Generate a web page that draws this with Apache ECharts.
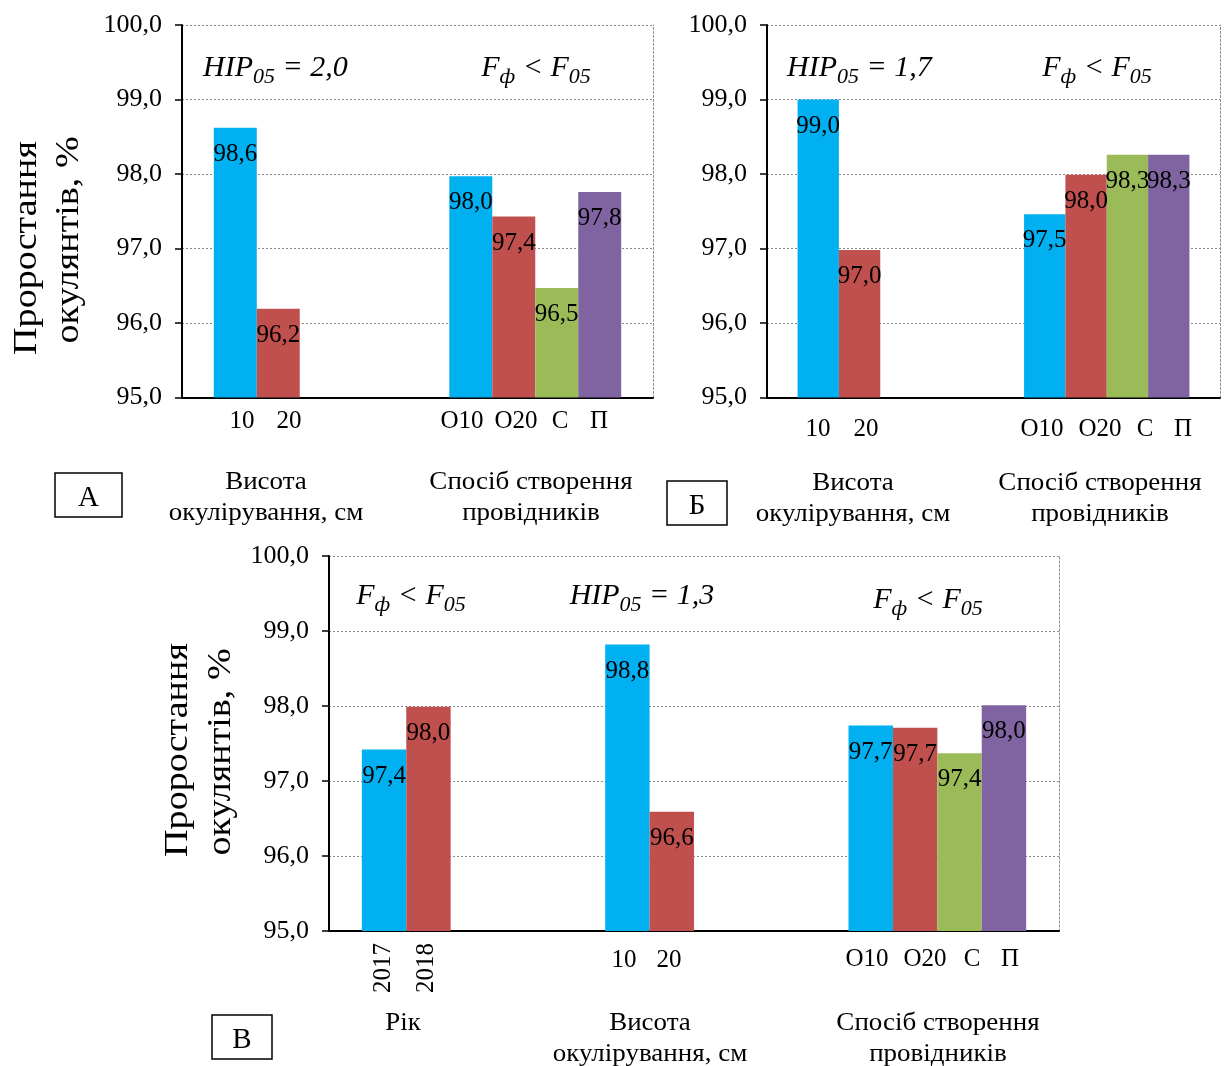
<!DOCTYPE html>
<html><head><meta charset="utf-8">
<script src="https://cdn.jsdelivr.net/npm/echarts@6/dist/echarts.min.js"></script>
<style>html,body{margin:0;padding:0;background:#fff}#c{width:1224px;height:1066px}</style>
</head><body><div id="c"></div>
<script>
// ---------- data ----------
const yMin = 95, yMax = 100, yStep = 1;
const heightCats = ['10', '20'];
const methodCats = ['О10', 'О20', 'С', 'П'];
const yearCats = ['2017', '2018'];
// Chart А
const A_height = [98.62, 96.19];
const A_method = [97.97, 97.43, 96.47, 97.76];
// Chart Б
const B_height = [99.0, 96.98];
const B_method = [97.46, 97.99, 98.26, 98.26];
// Chart В
const C_year = [97.42, 97.99];
const C_height = [98.82, 96.59];
const C_method = [97.74, 97.71, 97.37, 98.01];

// ---------- styling ----------
const SERIF = '"Liberation Serif","Times New Roman",serif';
const COLORS = ['#00B0F0', '#C0504D', '#9BBB59', '#8064A2'];
const fmt = v => Number(v).toFixed(1).replace('.', ',');

const grids = [
  {left: 182, top: 25, width: 471, height: 372.5},
  {left: 767, top: 25, width: 453, height: 372.5},
  {left: 329, top: 556, width: 730, height: 375}
];
const chartGroups = [
  [A_height, A_method],
  [B_height, B_method],
  [C_year, C_height, C_method]
];

const xAxis = [], yAxis = [], series = [];
chartGroups.forEach((groups, gi) => {
  xAxis.push({
    type: 'category', gridIndex: gi, data: groups.map((g, i) => 'g' + i),
    axisLine: {lineStyle: {color: '#000', width: 2}},
    axisTick: {show: false}, axisLabel: {show: false}
  });
  yAxis.push({
    type: 'value', gridIndex: gi, min: yMin, max: yMax, interval: yStep,
    axisLine: {show: true, lineStyle: {color: '#000', width: 2}},
    axisTick: {show: true, length: 7, lineStyle: {color: '#000', width: 1.5}},
    axisLabel: {formatter: fmt, fontFamily: SERIF, fontSize: 26, color: '#000', margin: 20},
    splitLine: {show: true, lineStyle: {color: '#8a8a8a', type: [2, 2], width: 1}}
  });
  yAxis.push({
    type: 'value', gridIndex: gi, min: yMin, max: yMax, interval: yStep, position: 'right',
    axisLine: {show: true, lineStyle: {color: '#8a8a8a', type: [2, 2], width: 1}},
    axisTick: {show: false}, axisLabel: {show: false}, splitLine: {show: false}
  });
  for (let k = 0; k < 4; k++) {
    series.push({
      type: 'bar', xAxisIndex: gi, yAxisIndex: gi * 2,
      data: groups.map(g => (g[k] === undefined ? '-' : g[k])),
      barGap: '0%', barCategoryGap: '27%',
      itemStyle: {color: COLORS[k]},
      label: {show: true, position: 'insideTop', distance: 14, formatter: p => fmt(p.value),
        fontFamily: SERIF, fontSize: 25, color: '#000'}
    });
  }
});

// ---------- text layout ----------
function T(text, x, y, size, sx, rot) {
  return {type: 'text', x: x, y: y, silent: true, scaleX: sx || 1, rotation: rot || 0,
    style: {text: text, fontSize: size, fontFamily: SERIF, fill: '#000',
      align: 'center', verticalAlign: 'middle'}};
}
const richMath = {
  m: {fontSize: 30, fontStyle: 'italic', fontFamily: SERIF, fill: '#000'},
  s: {fontSize: 22, fontStyle: 'italic', fontFamily: SERIF, fill: '#000', padding: [18, 0, 0, 0]}
};
function M(text, x, y, align) {
  return {type: 'text', x: x, y: y, silent: true,
    style: {text: text, rich: richMath, align: align || 'center', verticalAlign: 'middle'}};
}
const HIP = v => '{m|HIP}{s|05}{m| = ' + v + '}';
const FF = '{m|F}{s|ф}{m| < F}{s|05}';
function box(x, y, w, h, letter) {
  return [
    {type: 'rect', shape: {x: x, y: y, width: w, height: h}, silent: true,
      style: {fill: 'none', stroke: '#000', lineWidth: 1.5}},
    T(letter, x + w / 2, y + h / 2 + 3, 29)
  ];
}
const R = Math.PI / 2;
const graphic = [
  // Chart А
  T('Проростання', 27, 248, 34, 1.12, R),
  T('окулянтів, %', 69, 240, 34, 1.12, R),
  M(HIP('2,0'), 203, 68, 'left'), M(FF, 536, 68),
  T(heightCats[0], 242, 421, 25), T(heightCats[1], 289, 421, 25),
  T(methodCats[0], 462, 421, 25), T(methodCats[1], 516, 421, 25),
  T(methodCats[2], 560, 421, 25), T(methodCats[3], 599, 421, 25),
  T('Висота', 266, 482, 25, 1.08), T('окулірування, см', 266, 513, 25, 1.08),
  T('Спосіб створення', 531, 482, 25, 1.08), T('провідників', 531, 513, 25, 1.08),
  ...box(55, 473, 67, 44, 'А'),
  // Chart Б
  M(HIP('1,7'), 787, 68, 'left'), M(FF, 1097, 68),
  T(heightCats[0], 818, 429, 25), T(heightCats[1], 866, 429, 25),
  T(methodCats[0], 1042, 429, 25), T(methodCats[1], 1100, 429, 25),
  T(methodCats[2], 1145, 429, 25), T(methodCats[3], 1183, 429, 25),
  T('Висота', 853, 483, 25, 1.08), T('окулірування, см', 853, 514, 25, 1.08),
  T('Спосіб створення', 1100, 483, 25, 1.08), T('провідників', 1100, 514, 25, 1.08),
  ...box(667, 481, 60, 44, 'Б'),
  // Chart В
  T('Проростання', 178, 750, 34, 1.12, R),
  T('окулянтів, %', 221, 752, 34, 1.12, R),
  M(FF, 411, 596), M(HIP('1,3'), 642, 596), M(FF, 928, 600),
  T(yearCats[0], 383, 968, 25, 1, R),
  T(yearCats[1], 426, 968, 25, 1, R),
  T(heightCats[0], 624, 960, 25), T(heightCats[1], 669, 960, 25),
  T(methodCats[0], 867, 959, 25), T(methodCats[1], 925, 959, 25),
  T(methodCats[2], 972, 959, 25), T(methodCats[3], 1010, 959, 25),
  T('Рік', 403, 1023, 25, 1.08),
  T('Висота', 650, 1023, 25, 1.08), T('окулірування, см', 650, 1054, 25, 1.08),
  T('Спосіб створення', 938, 1023, 25, 1.08), T('провідників', 938, 1054, 25, 1.08),
  ...box(212, 1015, 60, 44, 'В')
];

const chart = echarts.init(document.getElementById('c'));
chart.setOption({
  animation: false,
  backgroundColor: '#fff',
  grid: grids,
  xAxis: xAxis,
  yAxis: yAxis,
  series: series,
  graphic: graphic
});
</script></body></html>
